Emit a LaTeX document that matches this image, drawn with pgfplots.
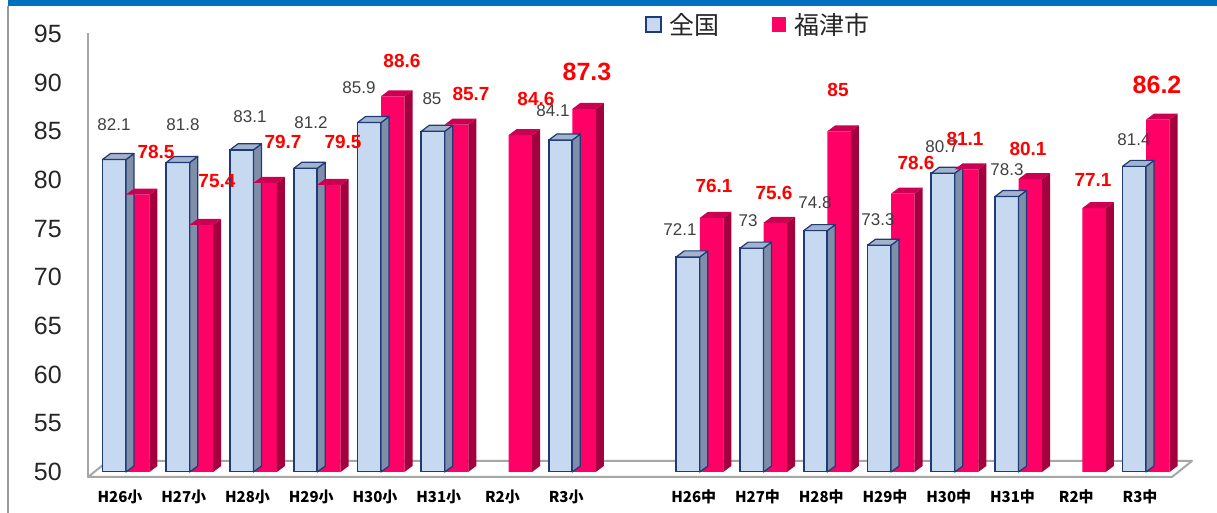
\documentclass[border=0pt]{standalone}
\usepackage{pgfplots}
\pgfplotsset{compat=1.18}
\usepackage{pgfplotstable}
\usepackage{fontspec}
\setmainfont{Liberation Sans}
\newfontfamily\cjk{Noto Sans CJK JP}
\definecolor{bfront}{HTML}{C6D9F1}
\definecolor{bside}{HTML}{7F8FA9}
\definecolor{btop}{HTML}{A3B3CB}
\definecolor{navy}{HTML}{1F3A78}
\definecolor{rfront}{HTML}{FF0066}
\definecolor{rside}{HTML}{A3003D}
\definecolor{rtop}{HTML}{CC0052}
\definecolor{lbl}{HTML}{404040}
\definecolor{floorc}{HTML}{A6A6A6}
\definecolor{band}{HTML}{0070C0}
\definecolor{legtext}{HTML}{262626}

\def\yu{9.7333}
\def\hw{11.75}
\def\dxx{8}
\def\dyy{6}
\pgfdeclareplotmark{blue3d}{%
  \pgfmathsetmacro\hh{(\barv-50)*\yu}%
  \pgfmathsetmacro\ra{\hw+\dxx}%
  \pgfmathsetmacro\la{-\hw+\dxx}%
  \pgfmathsetmacro\sb{\dyy-\hh}%
  \pgfsetlinewidth{1.2pt}\pgfsetstrokecolor{navy}\pgfsetroundjoin
  \pgfsetfillcolor{bside}%
  \pgfpathmoveto{\pgfpoint{\hw pt}{0pt}}%
  \pgfpathlineto{\pgfpoint{\ra pt}{\dyy pt}}%
  \pgfpathlineto{\pgfpoint{\ra pt}{\sb pt}}%
  \pgfpathlineto{\pgfpoint{\hw pt}{-\hh pt}}%
  \pgfpathclose\pgfusepath{fill,stroke}%
  \pgfsetfillcolor{btop}%
  \pgfpathmoveto{\pgfpoint{-\hw pt}{0pt}}%
  \pgfpathlineto{\pgfpoint{\hw pt}{0pt}}%
  \pgfpathlineto{\pgfpoint{\ra pt}{\dyy pt}}%
  \pgfpathlineto{\pgfpoint{\la pt}{\dyy pt}}%
  \pgfpathclose\pgfusepath{fill,stroke}%
}
\pgfdeclareplotmark{red3d}{%
  \pgfmathsetmacro\hh{(\barv-50)*\yu}%
  \pgfmathsetmacro\ra{\hw+\dxx}%
  \pgfmathsetmacro\la{-\hw+\dxx}%
  \pgfmathsetmacro\sb{\dyy-\hh}%
  \pgfsetfillcolor{rside}%
  \pgfpathmoveto{\pgfpoint{\hw pt}{0pt}}%
  \pgfpathlineto{\pgfpoint{\ra pt}{\dyy pt}}%
  \pgfpathlineto{\pgfpoint{\ra pt}{\sb pt}}%
  \pgfpathlineto{\pgfpoint{\hw pt}{-\hh pt}}%
  \pgfpathclose\pgfusepath{fill}%
  \pgfsetfillcolor{rtop}%
  \pgfpathmoveto{\pgfpoint{-\hw pt}{0pt}}%
  \pgfpathlineto{\pgfpoint{\hw pt}{0pt}}%
  \pgfpathlineto{\pgfpoint{\ra pt}{\dyy pt}}%
  \pgfpathlineto{\pgfpoint{\la pt}{\dyy pt}}%
  \pgfpathclose\pgfusepath{fill}%
}

\pgfplotstableread{
x v
0 82.1
1 81.8
2 83.1
3 81.2
4 85.9
5 85.0
6 nan
7 84.1
9 72.1
10 73.0
11 74.8
12 73.3
13 80.7
14 78.3
15 nan
16 81.4
}\tabA
\pgfplotstableread{
x v
0 78.5
1 75.4
2 79.7
3 79.5
4 88.6
5 85.7
6 84.6
7 87.3
9 76.1
10 75.6
11 85.0
12 78.6
13 81.1
14 80.1
15 77.1
16 86.2
}\tabB
\pgfplotstableread{
lx ly t
-0.188 85.65 82.1
0.894 85.65 81.8
1.945 86.47 83.1
2.902 85.86 81.2
3.655 89.45 85.9
4.800 88.32 85
6.698 87.09 84.1
8.690 74.86 72.1
9.757 75.79 73
10.808 77.64 74.8
11.796 75.89 73.3
12.800 83.39 80.7
13.820 81.03 78.3
15.812 84.11 81.4
}\labA
\pgfplotstableread{
lx ly t
0.471 82.88 78.5
1.427 79.90 75.4
2.463 83.90 79.7
3.404 83.90 79.5
4.329 92.23 88.6
5.412 88.84 85.7
6.431 88.32 84.6
9.224 79.38 76.1
10.165 78.66 75.6
11.169 89.25 85
12.392 81.75 78.6
13.161 84.21 81.1
14.149 83.19 80.1
15.169 80.00 77.1
}\labB
\pgfplotstableread{
lx ly t
7.231 91.10 87.3
16.173 89.76 86.2
}\labC

\begin{document}
\begin{tikzpicture}
\useasboundingbox (0pt,0pt) rectangle (1217pt,513pt);
\fill[white] (0pt,0pt) rectangle (1217pt,513pt);
% frame
\fill[band] (8pt,507pt) rectangle (1217pt,513pt);
\draw[gray!80, line width=2pt] (8pt,0pt) -- (8pt,507pt);
% floor
\draw[floorc, line width=2pt, line join=round]
  (88pt,36pt) -- (1172pt,36pt) -- (1192pt,52pt) -- (108pt,52pt) -- cycle;
\draw[floorc, line width=2pt] (88pt,36pt) -- (88pt,480pt);
\begin{axis}[
  at={(88pt,41pt)}, anchor=south west,
  x=63.75pt, y=9.7333pt,
  xmin=-0.596, xmax=16.408, ymin=50, ymax=95,
  axis line style={draw=none}, major tick length=0pt,
  ytick={50,55,...,95},
  xtick={0,1,2,3,4,5,6,7,9,10,11,12,13,14,15,16},
  xticklabels={H26小,H27小,H28小,H29小,H30小,H31小,R2小,R3小,H26中,H27中,H28中,H29中,H30中,H31中,R2中,R3中},
  xticklabel style={font=\cjk\bfseries\fontsize{15}{15}\selectfont, anchor=center, inner sep=0pt, yshift=-25pt, xshift=-6pt},
  yticklabel style={font=\fontsize{25}{25}\selectfont, anchor=east, inner sep=0pt, xshift=-26pt, text=black!85},
  /pgf/number format/assume math mode=true,
  legend columns=2,
  legend cell align=left,
  legend style={draw=none, fill=none, at={(0.5138,1.0205)}, anchor=west,
    font=\cjk\fontsize{25}{25}\selectfont, text=legtext, inner sep=0pt,
    /tikz/every even column/.append style={column sep=50pt}},
]
\addplot[ybar, bar width=23.5pt, bar shift=-11.75pt, fill=bfront, draw=navy, line width=1.6pt,
  legend image code/.code={\draw[fill=bfront,draw=navy,line width=1.8pt] (0pt,-7pt) rectangle (15pt,8pt); \path (21pt,0pt);}]
  table[x=x,y=v]{\tabA};
\addlegendentry{全国}
\addplot[only marks, mark=blue3d, forget plot, visualization depends on={\thisrow{v} \as \barv}]
  table[x expr=\thisrow{x}-0.18431, y=v]{\tabA};
\addplot[ybar, bar width=23.5pt, bar shift=11.75pt, fill=rfront, draw=none,
  legend image code/.code={\fill[rfront] (0pt,-7pt) rectangle (14pt,8pt); \path (21pt,0pt);}]
  table[x=x,y=v]{\tabB};
\addlegendentry{福津市}
\addplot[only marks, mark=red3d, forget plot, visualization depends on={\thisrow{v} \as \barv}]
  table[x expr=\thisrow{x}+0.18431, y=v]{\tabB};
% labels
\addplot[draw=none, mark=none, forget plot, nodes near coords, point meta=explicit symbolic,
  every node near coord/.append style={anchor=center, inner sep=0pt, font=\fontsize{17}{17}\selectfont, text=lbl}]
  table[x=lx, y=ly, meta=t]{\labA};
\addplot[draw=none, mark=none, forget plot, nodes near coords, point meta=explicit symbolic,
  every node near coord/.append style={anchor=center, inner sep=0pt, font=\bfseries\fontsize{19}{19}\selectfont, text=red}]
  table[x=lx, y=ly, meta=t]{\labB};
\addplot[draw=none, mark=none, forget plot, nodes near coords, point meta=explicit symbolic,
  every node near coord/.append style={anchor=center, inner sep=0pt, font=\bfseries\fontsize{25}{25}\selectfont, text=red}]
  table[x=lx, y=ly, meta=t]{\labC};
\end{axis}
\end{tikzpicture}
\end{document}
